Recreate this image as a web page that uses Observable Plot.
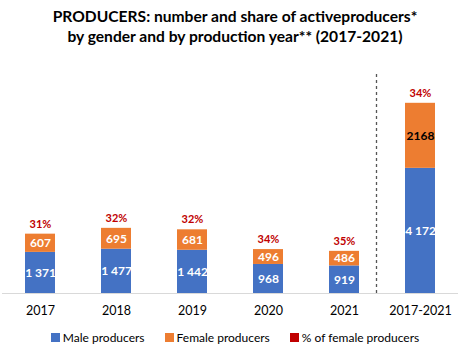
<!DOCTYPE html>
<html><head><meta charset="utf-8">
<script src="https://cdn.jsdelivr.net/npm/d3@7"></script>
<script src="https://cdn.jsdelivr.net/npm/@observablehq/plot@0.6"></script>
<style>
body{margin:0;background:#fff;font-family:Lato,"Open Sans",sans-serif;}
#title{width:470px;height:52px;box-sizing:border-box;padding-top:6px;text-align:center;font-weight:bold;font-size:15.6px;line-height:20px;color:#000;}
#legend{width:470px;height:30px;display:flex;justify-content:center;align-items:center;font-size:12px;color:#000;gap:0;}
#legend .it{display:flex;align-items:center;margin:0 10px;}
#legend .sw{width:9px;height:9px;margin-right:3px;display:inline-block;}
</style></head>
<body>
<div id="title">PRODUCERS: number and share of activeproducers*<br>by gender and by production year** (2017-2021)</div>
<div id="chart"></div>
<div id="legend"></div>
<script>
const years = ["2017","2018","2019","2020","2021","2017-2021"];
const male = [1371,1477,1442,968,919,4172];
const female = [607,695,681,496,486,2168];
const pctLabels = ["31%","32%","32%","34%","35%","34%"];
const seriesNames = ["Male producers","Female producers","% of female producers"];
const seriesColors = ["#4472C4","#ED7D31","#C00000"];

const rows = [];
years.forEach((yr,i)=>{
  rows.push({year:yr, sex:seriesNames[0], y1:0, y2:male[i], label:d3.format(",")(male[i]).replace(/,/g," "), fc:"#fff"});
  rows.push({year:yr, sex:seriesNames[1], y1:male[i], y2:male[i]+female[i], label:String(female[i]), fc: yr==="2017-2021" ? "#000" : "#fff"});
});
rows.forEach(r=>r.mid=(r.y1+r.y2)/2);
const totals = years.map((yr,i)=>({year:yr, total:male[i]+female[i], pct:pctLabels[i]}));

const chart = Plot.plot({
  width:470, height:270,
  marginLeft:2, marginRight:12, marginTop:31, marginBottom:29,
  style:{fontFamily:"Lato, 'Open Sans', sans-serif", background:"#fff"},
  x:{domain:years, paddingInner:0.605, paddingOuter:0.3, label:null},
  y:{domain:[0,7000], axis:null},
  color:{domain:seriesNames.slice(0,2), range:seriesColors.slice(0,2)},
  marks:[
    Plot.ruleY([0],{stroke:"#d9d9d9", strokeWidth:1.2}),
    Plot.barY(rows,{x:"year", y1:"y1", y2:"y2", fill:"sex"}),
    Plot.text(rows,{x:"year", y:"mid", text:"label", fill:"fc", fontSize:12, fontWeight:"bold"}),
    Plot.text(totals,{x:"year", y:"total", text:"pct", dy:-10, fill:seriesColors[2], fontSize:11, fontWeight:"bold"}),
    Plot.ruleX([years[5]],{x:d=>d, y1:0, y2:7370, dx:-44, stroke:"#555", strokeWidth:1.3, strokeDasharray:"3,3"}),
    Plot.axisX({tickSize:0, tickPadding:13, fontSize:12.5, fill:"#000"})
  ]
});
document.getElementById("chart").appendChild(chart);

const lg = document.getElementById("legend");
seriesNames.forEach((n,i)=>{
  const it=document.createElement("div"); it.className="it";
  it.innerHTML=`<span class="sw" style="background:${seriesColors[i]}"></span><span>${n}</span>`;
  lg.appendChild(it);
});
</script>
</body></html>
